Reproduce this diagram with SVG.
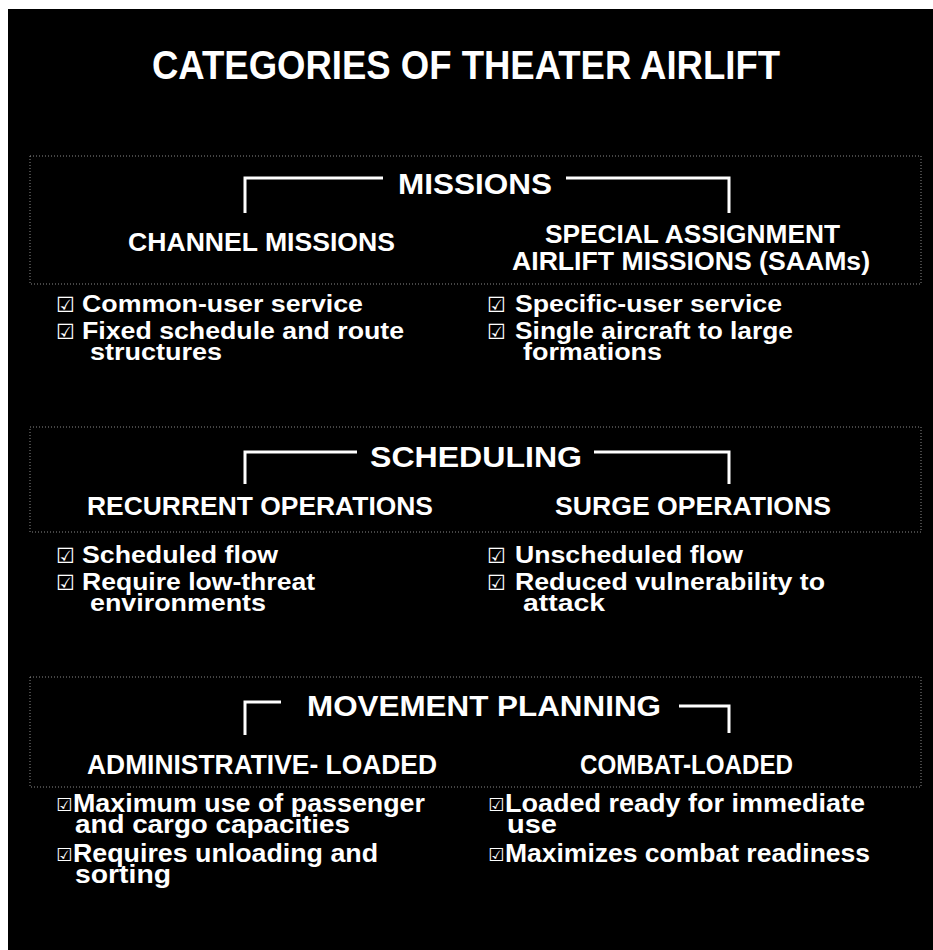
<svg xmlns="http://www.w3.org/2000/svg" width="933" height="950" viewBox="0 0 933 950">
<style>
.t{font-family:"Liberation Sans",Arial,sans-serif;font-weight:bold;fill:#fff}
.h{font-size:29px}
.s{font-size:25px}
.b{font-size:23px}
.c{font-size:25px}
.cb{font-family:"DejaVu Sans",sans-serif;font-size:21px;fill:#fff}
.cs{font-family:"DejaVu Sans",sans-serif;font-size:18px;fill:#fff}
.dot{fill:none;stroke:#8a8a8a;stroke-width:1;stroke-dasharray:1 2}
.br{fill:none;stroke:#fff;stroke-width:3}
</style>
<rect x="0" y="0" width="933" height="950" fill="#fff"/>
<rect x="8" y="9" width="925" height="941" fill="#000"/>
<text class="t" x="152" y="79" font-size="41" textLength="628" lengthAdjust="spacingAndGlyphs">CATEGORIES OF THEATER AIRLIFT</text>

<g id="missions">
<rect class="dot" x="30" y="156" width="891" height="128"/>
<path class="br" d="M245,213 V178 H383 M566,178 H729 V213"/>
<text class="t h" x="398" y="194" textLength="154" lengthAdjust="spacingAndGlyphs">MISSIONS</text>
<text class="t s" x="128" y="251" textLength="267" lengthAdjust="spacingAndGlyphs">CHANNEL MISSIONS</text>
<text class="t s" x="545" y="243" textLength="295" lengthAdjust="spacingAndGlyphs">SPECIAL ASSIGNMENT</text>
<text class="t s" x="512" y="270" textLength="358" lengthAdjust="spacingAndGlyphs">AIRLIFT MISSIONS (SAAMs)</text>
</g>
<g id="missions-items">
<text class="cb" x="56" y="312">☑</text>
<text class="t b" x="82" y="312" textLength="281" lengthAdjust="spacingAndGlyphs">Common-user service</text>
<text class="cb" x="56" y="339">☑</text>
<text class="t b" x="82" y="339" textLength="322" lengthAdjust="spacingAndGlyphs">Fixed schedule and route</text>
<text class="t b" x="90" y="360" textLength="132" lengthAdjust="spacingAndGlyphs">structures</text>
<text class="cb" x="487" y="312">☑</text>
<text class="t b" x="515" y="312" textLength="267" lengthAdjust="spacingAndGlyphs">Specific-user service</text>
<text class="cb" x="487" y="339">☑</text>
<text class="t b" x="515" y="339" textLength="278" lengthAdjust="spacingAndGlyphs">Single aircraft to large</text>
<text class="t b" x="523" y="360" textLength="139" lengthAdjust="spacingAndGlyphs">formations</text>
</g>

<g id="scheduling">
<rect class="dot" x="30" y="427" width="891" height="105"/>
<path class="br" d="M245,484 V452 H357 M594,452 H729 V484"/>
<text class="t h" x="370" y="467" textLength="212" lengthAdjust="spacingAndGlyphs">SCHEDULING</text>
<text class="t s" x="87" y="515" textLength="346" lengthAdjust="spacingAndGlyphs">RECURRENT OPERATIONS</text>
<text class="t s" x="555" y="515" textLength="276" lengthAdjust="spacingAndGlyphs">SURGE OPERATIONS</text>
</g>
<g id="scheduling-items">
<text class="cb" x="56" y="563">☑</text>
<text class="t b" x="82" y="563" textLength="196" lengthAdjust="spacingAndGlyphs">Scheduled flow</text>
<text class="cb" x="56" y="590">☑</text>
<text class="t b" x="82" y="590" textLength="233" lengthAdjust="spacingAndGlyphs">Require low-threat</text>
<text class="t b" x="90" y="611" textLength="176" lengthAdjust="spacingAndGlyphs">environments</text>
<text class="cb" x="487" y="563">☑</text>
<text class="t b" x="515" y="563" textLength="228" lengthAdjust="spacingAndGlyphs">Unscheduled flow</text>
<text class="cb" x="487" y="590">☑</text>
<text class="t b" x="515" y="590" textLength="310" lengthAdjust="spacingAndGlyphs">Reduced vulnerability to</text>
<text class="t b" x="523" y="611" textLength="82" lengthAdjust="spacingAndGlyphs">attack</text>
</g>

<g id="movement">
<rect class="dot" x="30" y="677" width="891" height="110"/>
<path class="br" d="M245,735 V702 H281 M679,706 H729 V733"/>
<text class="t h" x="307" y="716" font-size="31" textLength="354" lengthAdjust="spacingAndGlyphs">MOVEMENT PLANNING</text>
<text class="t" x="87" y="774" font-size="28" textLength="350" lengthAdjust="spacingAndGlyphs">ADMINISTRATIVE- LOADED</text>
<text class="t" x="580" y="774" font-size="28" textLength="213" lengthAdjust="spacingAndGlyphs">COMBAT-LOADED</text>
</g>
<g id="movement-items">
<text class="cs" x="56" y="811">☑</text>
<text class="t c" x="73" y="812" textLength="352" lengthAdjust="spacingAndGlyphs">Maximum use of passenger</text>
<text class="t c" x="75" y="833" textLength="275" lengthAdjust="spacingAndGlyphs">and cargo capacities</text>
<text class="cs" x="56" y="861">☑</text>
<text class="t c" x="73" y="862" textLength="305" lengthAdjust="spacingAndGlyphs">Requires unloading and</text>
<text class="t c" x="75" y="883" textLength="96" lengthAdjust="spacingAndGlyphs">sorting</text>
<text class="cs" x="488" y="811">☑</text>
<text class="t c" x="505" y="812" textLength="360" lengthAdjust="spacingAndGlyphs">Loaded ready for immediate</text>
<text class="t c" x="507" y="833" textLength="50" lengthAdjust="spacingAndGlyphs">use</text>
<text class="cs" x="488" y="861">☑</text>
<text class="t c" x="505" y="862" textLength="365" lengthAdjust="spacingAndGlyphs">Maximizes combat readiness</text>
</g>
</svg>
